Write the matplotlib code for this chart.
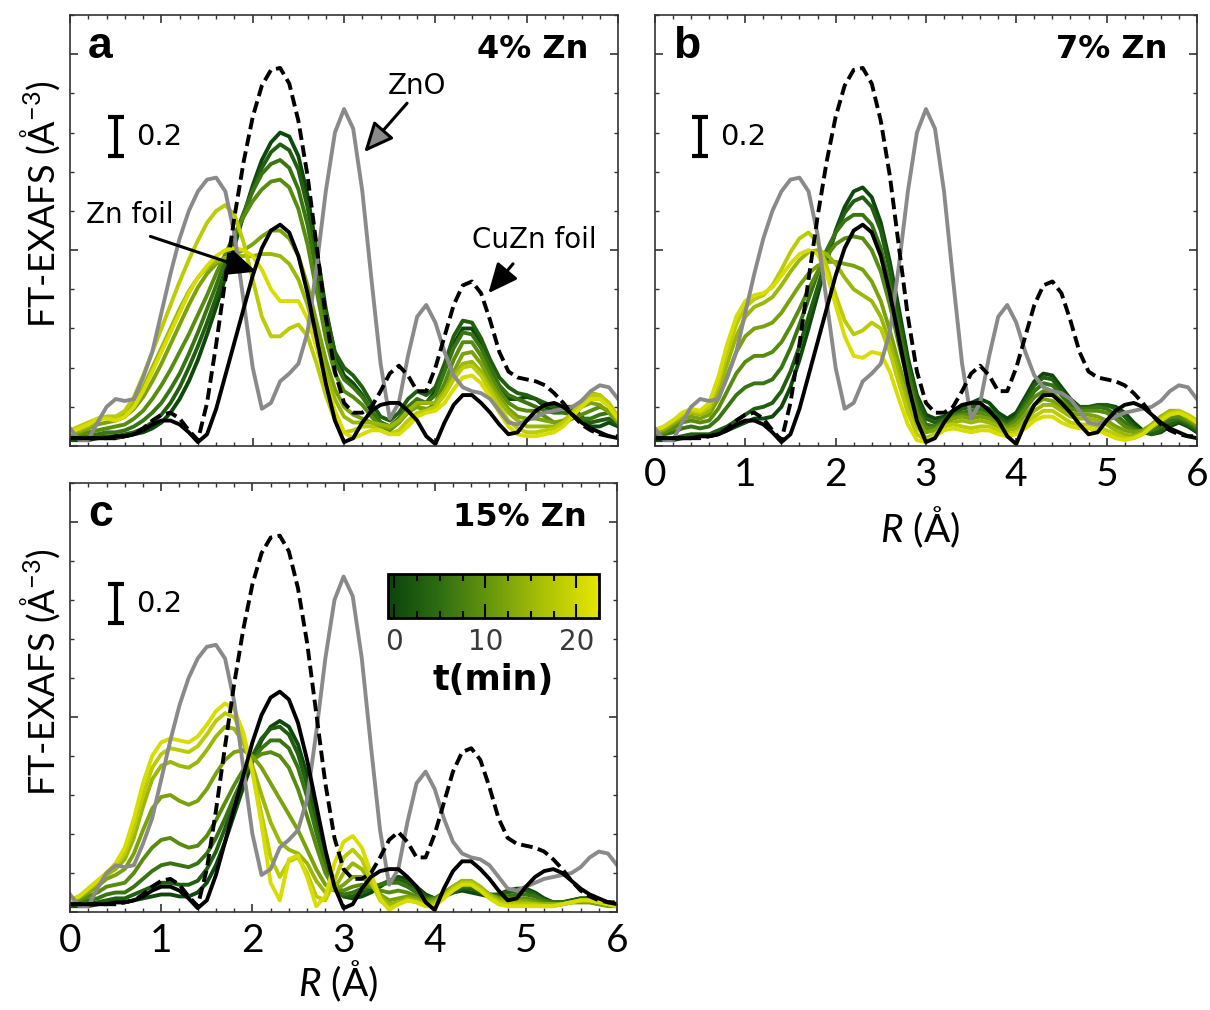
import numpy as np
import matplotlib
matplotlib.use("Agg")
import matplotlib.pyplot as plt
import matplotlib.cm as cm
from matplotlib.colors import LinearSegmentedColormap, Normalize
from matplotlib.ticker import MultipleLocator

plt.rcParams['font.family'] = ['Lato', 'DejaVu Sans']
plt.rcParams['mathtext.fontset'] = 'custom'
plt.rcParams['mathtext.rm'] = 'Lato'
plt.rcParams['mathtext.it'] = 'Lato:italic'

# radial grid of the FT-EXAFS spectra (0.1 A steps)
R = np.linspace(0, 6, 61)

# reference spectra, same in every panel
zno = [0.09, 0.03, 0.03, 0.12, 0.20, 0.24, 0.23, 0.24, 0.35, 0.48,
       0.68, 0.88, 1.06, 1.20, 1.30, 1.36, 1.37, 1.30, 1.08, 0.74,
       0.40, 0.19, 0.22, 0.33, 0.37, 0.42, 0.58, 0.92, 1.30, 1.60,
       1.72, 1.62, 1.30, 0.85, 0.42, 0.14, 0.22, 0.46, 0.66, 0.72,
       0.63, 0.48, 0.36, 0.30, 0.28, 0.27, 0.24, 0.18, 0.12, 0.11,
       0.13, 0.15, 0.17, 0.18, 0.19, 0.20, 0.23, 0.28, 0.31, 0.30,
       0.24]
zn_foil = [0.04, 0.04, 0.04, 0.04, 0.04, 0.05, 0.05, 0.06, 0.08, 0.11,
           0.13, 0.13, 0.11, 0.07, 0.02, 0.06, 0.19, 0.36, 0.53, 0.70,
           0.87, 1.01, 1.10, 1.13, 1.09, 0.97, 0.78, 0.55, 0.32, 0.13,
           0.02, 0.04, 0.12, 0.18, 0.21, 0.22, 0.22, 0.18, 0.13, 0.05,
           0.01, 0.12, 0.21, 0.26, 0.26, 0.22, 0.17, 0.11, 0.06, 0.07,
           0.13, 0.18, 0.21, 0.22, 0.20, 0.16, 0.12, 0.09, 0.07, 0.05,
           0.04]
cuzn_foil = [0.04, 0.04, 0.04, 0.04, 0.04, 0.04, 0.05, 0.06, 0.09, 0.13,
             0.16, 0.17, 0.14, 0.08, 0.03, 0.22, 0.52, 0.85, 1.17, 1.45,
             1.68, 1.84, 1.92, 1.93, 1.85, 1.66, 1.38, 1.02, 0.66, 0.38,
             0.22, 0.17, 0.17, 0.20, 0.28, 0.37, 0.41, 0.36, 0.28, 0.28,
             0.40, 0.56, 0.72, 0.82, 0.84, 0.78, 0.64, 0.48, 0.38, 0.35,
             0.34, 0.33, 0.31, 0.27, 0.22, 0.16, 0.11, 0.08, 0.06, 0.05,
             0.05]

# acquisition times of the time-resolved spectra (min)
times = [0, 3, 6, 9, 12, 15, 18, 21]

# 4% Zn
ft_4 = [
    [0.03, 0.03, 0.03, 0.04, 0.04, 0.04, 0.05, 0.06, 0.07, 0.09,
     0.12, 0.17, 0.24, 0.33, 0.44, 0.57, 0.71, 0.86, 1.02, 1.18,
     1.33, 1.46, 1.55, 1.60, 1.58, 1.48, 1.28, 1.00, 0.70, 0.47,
     0.36, 0.32, 0.26, 0.18, 0.12, 0.10, 0.14, 0.20, 0.22, 0.22,
     0.28, 0.40, 0.52, 0.60, 0.60, 0.52, 0.40, 0.30, 0.24, 0.24,
     0.25, 0.24, 0.20, 0.18, 0.20, 0.20, 0.15, 0.10, 0.10, 0.12,
     0.10],
    [0.03, 0.04, 0.04, 0.05, 0.05, 0.05, 0.06, 0.07, 0.09, 0.12,
     0.16, 0.22, 0.30, 0.40, 0.51, 0.63, 0.76, 0.90, 1.04, 1.18,
     1.31, 1.42, 1.50, 1.54, 1.51, 1.41, 1.22, 0.96, 0.68, 0.48,
     0.40, 0.36, 0.30, 0.22, 0.15, 0.13, 0.17, 0.24, 0.28, 0.26,
     0.30, 0.42, 0.56, 0.64, 0.63, 0.55, 0.44, 0.35, 0.30, 0.27,
     0.26, 0.24, 0.22, 0.20, 0.20, 0.18, 0.14, 0.12, 0.13, 0.14,
     0.11],
    [0.04, 0.05, 0.05, 0.06, 0.07, 0.07, 0.08, 0.10, 0.13, 0.17,
     0.22, 0.29, 0.37, 0.47, 0.58, 0.70, 0.82, 0.95, 1.07, 1.19,
     1.30, 1.39, 1.44, 1.46, 1.42, 1.31, 1.13, 0.88, 0.62, 0.43,
     0.34, 0.30, 0.25, 0.18, 0.12, 0.10, 0.14, 0.20, 0.24, 0.22,
     0.26, 0.38, 0.50, 0.58, 0.57, 0.50, 0.40, 0.31, 0.26, 0.24,
     0.22, 0.20, 0.18, 0.17, 0.17, 0.16, 0.14, 0.14, 0.16, 0.17,
     0.14],
    [0.05, 0.06, 0.07, 0.08, 0.09, 0.10, 0.11, 0.14, 0.18, 0.24,
     0.31, 0.39, 0.48, 0.57, 0.67, 0.77, 0.88, 0.98, 1.08, 1.17,
     1.25, 1.31, 1.35, 1.36, 1.32, 1.21, 1.03, 0.79, 0.55, 0.37,
     0.28, 0.25, 0.21, 0.15, 0.10, 0.08, 0.12, 0.18, 0.20, 0.18,
     0.22, 0.32, 0.44, 0.53, 0.53, 0.46, 0.36, 0.28, 0.22, 0.19,
     0.18, 0.18, 0.15, 0.12, 0.12, 0.14, 0.16, 0.18, 0.20, 0.18,
     0.13],
    [0.06, 0.07, 0.09, 0.11, 0.12, 0.13, 0.15, 0.19, 0.25, 0.33,
     0.42, 0.52, 0.62, 0.72, 0.81, 0.88, 0.93, 0.96, 0.98, 1.00,
     1.03, 1.07, 1.10, 1.10, 1.06, 0.97, 0.82, 0.63, 0.44, 0.29,
     0.20, 0.16, 0.14, 0.12, 0.10, 0.09, 0.12, 0.17, 0.20, 0.19,
     0.20, 0.28, 0.38, 0.47, 0.48, 0.42, 0.33, 0.25, 0.19, 0.15,
     0.14, 0.14, 0.13, 0.12, 0.13, 0.16, 0.20, 0.22, 0.21, 0.17,
     0.12],
    [0.07, 0.08, 0.10, 0.13, 0.15, 0.15, 0.17, 0.22, 0.30, 0.40,
     0.50, 0.60, 0.70, 0.79, 0.86, 0.91, 0.94, 0.96, 0.97, 0.97,
     0.97, 0.98, 0.98, 0.97, 0.93, 0.85, 0.72, 0.55, 0.38, 0.24,
     0.15, 0.12, 0.12, 0.12, 0.11, 0.10, 0.13, 0.18, 0.22, 0.22,
     0.22, 0.28, 0.36, 0.42, 0.43, 0.38, 0.30, 0.23, 0.17, 0.13,
     0.10, 0.10, 0.10, 0.10, 0.12, 0.17, 0.23, 0.27, 0.26, 0.20,
     0.13],
    [0.08, 0.10, 0.12, 0.14, 0.15, 0.15, 0.18, 0.25, 0.36, 0.48,
     0.60, 0.72, 0.84, 0.95, 1.05, 1.14, 1.20, 1.23, 1.18, 1.04,
     0.85, 0.66, 0.56, 0.56, 0.60, 0.62, 0.56, 0.42, 0.26, 0.13,
     0.07, 0.08, 0.10, 0.10, 0.08, 0.06, 0.08, 0.13, 0.17, 0.18,
     0.20, 0.26, 0.34, 0.40, 0.41, 0.36, 0.28, 0.20, 0.13, 0.09,
     0.07, 0.07, 0.08, 0.09, 0.12, 0.17, 0.22, 0.26, 0.26, 0.22,
     0.15],
    [0.07, 0.09, 0.11, 0.14, 0.14, 0.13, 0.15, 0.20, 0.28, 0.38,
     0.48, 0.58, 0.68, 0.78, 0.86, 0.92, 0.97, 1.00, 1.01, 1.00,
     0.97, 0.90, 0.80, 0.74, 0.74, 0.74, 0.65, 0.50, 0.33, 0.18,
     0.07, 0.04, 0.06, 0.08, 0.08, 0.06, 0.06, 0.10, 0.15, 0.17,
     0.18, 0.22, 0.29, 0.35, 0.36, 0.32, 0.25, 0.17, 0.10, 0.06,
     0.05, 0.05, 0.06, 0.07, 0.10, 0.15, 0.20, 0.24, 0.24, 0.20,
     0.14],
]

# 7% Zn
ft_7 = [
    [0.03, 0.03, 0.03, 0.04, 0.04, 0.05, 0.05, 0.06, 0.08, 0.10,
     0.12, 0.14, 0.14, 0.15, 0.20, 0.30, 0.44, 0.60, 0.77, 0.94,
     1.10, 1.22, 1.30, 1.32, 1.27, 1.14, 0.94, 0.70, 0.45, 0.26,
     0.16, 0.14, 0.15, 0.18, 0.20, 0.22, 0.24, 0.22, 0.17, 0.14,
     0.17, 0.25, 0.33, 0.37, 0.36, 0.30, 0.24, 0.20, 0.19, 0.20,
     0.21, 0.20, 0.17, 0.12, 0.08, 0.06, 0.07, 0.10, 0.12, 0.10,
     0.07],
    [0.04, 0.04, 0.04, 0.05, 0.06, 0.06, 0.06, 0.08, 0.10, 0.13,
     0.16, 0.19, 0.20, 0.22, 0.28, 0.38, 0.51, 0.66, 0.81, 0.96,
     1.09, 1.19, 1.25, 1.27, 1.22, 1.10, 0.90, 0.66, 0.42, 0.24,
     0.14, 0.12, 0.14, 0.17, 0.19, 0.20, 0.21, 0.19, 0.15, 0.12,
     0.15, 0.23, 0.31, 0.35, 0.34, 0.28, 0.22, 0.20, 0.20, 0.21,
     0.21, 0.19, 0.15, 0.10, 0.07, 0.06, 0.08, 0.11, 0.13, 0.11,
     0.08],
    [0.05, 0.06, 0.07, 0.09, 0.10, 0.09, 0.10, 0.14, 0.20, 0.26,
     0.30, 0.32, 0.32, 0.34, 0.40, 0.50, 0.62, 0.75, 0.88, 1.00,
     1.09, 1.15, 1.18, 1.18, 1.13, 1.01, 0.82, 0.60, 0.38, 0.20,
     0.11, 0.10, 0.13, 0.16, 0.17, 0.18, 0.19, 0.17, 0.13, 0.11,
     0.14, 0.21, 0.28, 0.32, 0.31, 0.26, 0.21, 0.19, 0.19, 0.20,
     0.19, 0.16, 0.12, 0.09, 0.07, 0.08, 0.10, 0.13, 0.14, 0.12,
     0.09],
    [0.06, 0.07, 0.09, 0.12, 0.13, 0.12, 0.13, 0.19, 0.28, 0.37,
     0.43, 0.46, 0.46, 0.48, 0.53, 0.61, 0.70, 0.80, 0.89, 0.97,
     1.03, 1.06, 1.07, 1.06, 1.00, 0.89, 0.72, 0.52, 0.33, 0.17,
     0.09, 0.09, 0.12, 0.15, 0.16, 0.16, 0.17, 0.15, 0.12, 0.10,
     0.13, 0.19, 0.25, 0.28, 0.27, 0.23, 0.19, 0.18, 0.18, 0.18,
     0.17, 0.14, 0.10, 0.08, 0.07, 0.09, 0.12, 0.15, 0.15, 0.13,
     0.10],
    [0.07, 0.08, 0.11, 0.14, 0.15, 0.14, 0.16, 0.24, 0.36, 0.48,
     0.56, 0.60, 0.61, 0.63, 0.68, 0.75, 0.82, 0.88, 0.92, 0.94,
     0.94, 0.93, 0.92, 0.90, 0.84, 0.74, 0.59, 0.42, 0.26, 0.13,
     0.07, 0.08, 0.11, 0.14, 0.15, 0.14, 0.15, 0.14, 0.11, 0.09,
     0.11, 0.16, 0.21, 0.24, 0.23, 0.20, 0.17, 0.16, 0.16, 0.15,
     0.13, 0.10, 0.08, 0.07, 0.08, 0.11, 0.15, 0.17, 0.17, 0.14,
     0.11],
    [0.07, 0.09, 0.12, 0.15, 0.17, 0.16, 0.18, 0.28, 0.42, 0.56,
     0.66, 0.71, 0.73, 0.76, 0.82, 0.89, 0.95, 0.99, 1.00, 0.98,
     0.93, 0.86, 0.80, 0.77, 0.74, 0.66, 0.53, 0.37, 0.22, 0.10,
     0.04, 0.06, 0.10, 0.12, 0.13, 0.12, 0.13, 0.12, 0.10, 0.08,
     0.09, 0.13, 0.18, 0.21, 0.21, 0.18, 0.15, 0.14, 0.14, 0.13,
     0.11, 0.08, 0.06, 0.05, 0.07, 0.11, 0.15, 0.18, 0.18, 0.15,
     0.12],
    [0.08, 0.10, 0.13, 0.16, 0.18, 0.17, 0.20, 0.32, 0.48, 0.62,
     0.71, 0.75, 0.77, 0.82, 0.90, 0.99, 1.06, 1.09, 1.04, 0.92,
     0.77, 0.64, 0.57, 0.59, 0.63, 0.60, 0.48, 0.32, 0.17, 0.06,
     0.03, 0.06, 0.10, 0.11, 0.10, 0.09, 0.10, 0.10, 0.08, 0.06,
     0.07, 0.11, 0.15, 0.18, 0.18, 0.15, 0.12, 0.11, 0.11, 0.10,
     0.08, 0.06, 0.04, 0.04, 0.06, 0.10, 0.14, 0.17, 0.18, 0.16,
     0.13],
    [0.08, 0.10, 0.13, 0.17, 0.19, 0.18, 0.22, 0.35, 0.52, 0.66,
     0.74, 0.77, 0.78, 0.81, 0.87, 0.93, 0.98, 1.00, 0.98, 0.88,
     0.72, 0.56, 0.46, 0.45, 0.48, 0.47, 0.38, 0.24, 0.11, 0.03,
     0.02, 0.05, 0.08, 0.09, 0.08, 0.07, 0.08, 0.08, 0.06, 0.05,
     0.06, 0.09, 0.13, 0.15, 0.15, 0.12, 0.10, 0.09, 0.09, 0.08,
     0.06, 0.04, 0.03, 0.04, 0.06, 0.10, 0.13, 0.16, 0.17, 0.15,
     0.12],
]

# 15% Zn
ft_15 = [
    [0.03, 0.03, 0.03, 0.04, 0.05, 0.05, 0.05, 0.06, 0.07, 0.08,
     0.09, 0.09, 0.08, 0.08, 0.10, 0.15, 0.24, 0.36, 0.50, 0.64,
     0.77, 0.88, 0.95, 0.98, 0.95, 0.86, 0.70, 0.50, 0.30, 0.15,
     0.08, 0.07, 0.08, 0.10, 0.13, 0.16, 0.18, 0.17, 0.13, 0.09,
     0.07, 0.08, 0.10, 0.11, 0.10, 0.09, 0.08, 0.09, 0.11, 0.12,
     0.12, 0.10, 0.07, 0.05, 0.05, 0.06, 0.07, 0.07, 0.06, 0.05,
     0.04],
    [0.03, 0.04, 0.04, 0.05, 0.06, 0.07, 0.07, 0.09, 0.11, 0.13,
     0.15, 0.15, 0.14, 0.14, 0.16, 0.22, 0.31, 0.43, 0.56, 0.69,
     0.80, 0.89, 0.94, 0.95, 0.91, 0.81, 0.65, 0.46, 0.27, 0.14,
     0.08, 0.08, 0.10, 0.12, 0.14, 0.16, 0.17, 0.15, 0.11, 0.08,
     0.07, 0.08, 0.10, 0.12, 0.12, 0.10, 0.09, 0.09, 0.10, 0.11,
     0.11, 0.09, 0.06, 0.05, 0.05, 0.06, 0.07, 0.07, 0.06, 0.05,
     0.04],
    [0.04, 0.05, 0.06, 0.07, 0.09, 0.10, 0.10, 0.13, 0.17, 0.21,
     0.24, 0.25, 0.24, 0.23, 0.25, 0.30, 0.38, 0.48, 0.59, 0.69,
     0.78, 0.84, 0.88, 0.88, 0.84, 0.74, 0.59, 0.41, 0.24, 0.13,
     0.09, 0.10, 0.12, 0.13, 0.14, 0.15, 0.15, 0.13, 0.10, 0.07,
     0.07, 0.09, 0.12, 0.13, 0.13, 0.11, 0.09, 0.08, 0.08, 0.09,
     0.09, 0.08, 0.06, 0.05, 0.05, 0.05, 0.06, 0.06, 0.05, 0.04,
     0.04],
    [0.04, 0.06, 0.08, 0.10, 0.13, 0.14, 0.15, 0.20, 0.27, 0.33,
     0.37, 0.38, 0.35, 0.33, 0.34, 0.39, 0.47, 0.56, 0.65, 0.73,
     0.78, 0.81, 0.82, 0.80, 0.74, 0.63, 0.49, 0.34, 0.20, 0.12,
     0.11, 0.13, 0.14, 0.13, 0.11, 0.10, 0.11, 0.10, 0.08, 0.06,
     0.07, 0.10, 0.13, 0.15, 0.14, 0.12, 0.09, 0.07, 0.07, 0.07,
     0.07, 0.06, 0.05, 0.04, 0.04, 0.05, 0.05, 0.05, 0.04, 0.04,
     0.03],
    [0.05, 0.07, 0.10, 0.13, 0.17, 0.19, 0.22, 0.30, 0.42, 0.53,
     0.59, 0.60, 0.57, 0.55, 0.57, 0.63, 0.71, 0.78, 0.82, 0.83,
     0.80, 0.74, 0.66, 0.58, 0.50, 0.42, 0.32, 0.22, 0.14, 0.11,
     0.14, 0.18, 0.18, 0.14, 0.09, 0.06, 0.07, 0.08, 0.07, 0.05,
     0.06, 0.09, 0.13, 0.16, 0.15, 0.12, 0.09, 0.07, 0.06, 0.06,
     0.06, 0.05, 0.04, 0.04, 0.04, 0.05, 0.05, 0.05, 0.04, 0.03,
     0.03],
    [0.06, 0.08, 0.11, 0.15, 0.19, 0.22, 0.27, 0.38, 0.54, 0.68,
     0.75, 0.77, 0.75, 0.74, 0.77, 0.83, 0.90, 0.95, 0.94, 0.87,
     0.75, 0.60, 0.46, 0.36, 0.32, 0.30, 0.25, 0.16, 0.10, 0.12,
     0.20, 0.25, 0.22, 0.15, 0.08, 0.04, 0.05, 0.07, 0.06, 0.04,
     0.05, 0.09, 0.13, 0.16, 0.16, 0.13, 0.09, 0.06, 0.05, 0.05,
     0.05, 0.04, 0.04, 0.04, 0.04, 0.05, 0.06, 0.06, 0.05, 0.04,
     0.03],
    [0.06, 0.08, 0.12, 0.16, 0.20, 0.24, 0.30, 0.43, 0.60, 0.74,
     0.81, 0.84, 0.83, 0.82, 0.85, 0.91, 0.98, 1.02, 1.00, 0.90,
     0.72, 0.50, 0.28, 0.18, 0.26, 0.28, 0.20, 0.08, 0.06, 0.16,
     0.28, 0.32, 0.27, 0.16, 0.06, 0.02, 0.04, 0.06, 0.05, 0.03,
     0.04, 0.08, 0.12, 0.15, 0.15, 0.12, 0.08, 0.05, 0.04, 0.04,
     0.04, 0.04, 0.03, 0.03, 0.04, 0.05, 0.06, 0.06, 0.05, 0.04,
     0.03],
    [0.06, 0.08, 0.12, 0.16, 0.20, 0.25, 0.33, 0.48, 0.66, 0.80,
     0.87, 0.89, 0.88, 0.87, 0.90, 0.96, 1.03, 1.07, 1.04, 0.92,
     0.72, 0.45, 0.15, 0.06, 0.27, 0.29, 0.18, 0.03, 0.08, 0.25,
     0.36, 0.39, 0.33, 0.20, 0.07, 0.01, 0.04, 0.06, 0.05, 0.03,
     0.03, 0.07, 0.11, 0.14, 0.14, 0.11, 0.07, 0.04, 0.03, 0.03,
     0.03, 0.03, 0.03, 0.03, 0.04, 0.05, 0.06, 0.06, 0.05, 0.04,
     0.03],
]

cmap = LinearSegmentedColormap.from_list(
    'zn_time', ['#0b430b', '#2f6e12', '#6c9a0c', '#aec305', '#e6e600'])
norm = Normalize(vmin=-0.7, vmax=22.5)

LW = 2.8

fig = plt.figure(figsize=(12.1, 10.1), dpi=100)
ax_a = fig.add_axes([0.0579, 0.5584, 0.4529, 0.4267])
ax_b = fig.add_axes([0.5413, 0.5584, 0.4479, 0.4267])
ax_c = fig.add_axes([0.0579, 0.0970, 0.4521, 0.4248])


def draw_panel(ax, spectra, letter, label, show_x):
    for t, y in zip(times, spectra):
        ax.plot(R, y, color=cmap(norm(t)), lw=LW, solid_joinstyle='round')
    ax.plot(R, zno, color='#8a8a8a', lw=LW, solid_joinstyle='round')
    ax.plot(R, cuzn_foil, color='black', lw=LW, dashes=(3, 1.4))
    ax.plot(R, zn_foil, color='black', lw=LW, solid_joinstyle='round')

    ax.set_xlim(0, 6)
    ax.set_ylim(0, 2.2)
    ax.xaxis.set_major_locator(MultipleLocator(1))
    ax.xaxis.set_minor_locator(MultipleLocator(0.2))
    ax.yaxis.set_major_locator(MultipleLocator(1))
    ax.yaxis.set_minor_locator(MultipleLocator(0.2))
    ax.tick_params(which='both', direction='in', top=True, right=True,
                   labelleft=False, labelbottom=show_x, color='#333333')
    ax.tick_params(which='major', length=6, width=1.2, labelsize=28, pad=8)
    ax.tick_params(which='minor', length=3, width=1.0)
    for s in ax.spines.values():
        s.set_linewidth(1.2)
        s.set_color('#333333')

    # 0.2 scale bar
    ax.errorbar(0.5, 1.58, yerr=0.1, fmt='none', ecolor='black',
                elinewidth=3, capsize=6, capthick=3)
    ax.text(0.72, 1.58, '0.2', fontsize=21, family='DejaVu Sans',
            va='center', ha='left')

    ax.text(0.033, 0.9, letter, transform=ax.transAxes, fontsize=32,
            fontweight='bold', family='Liberation Sans', va='baseline')
    ax.text(0.945, 0.9, label, transform=ax.transAxes, fontsize=23,
            fontweight='bold', family='DejaVu Sans', ha='right',
            va='baseline')


draw_panel(ax_a, ft_4, 'a', '4% Zn', False)
draw_panel(ax_b, ft_7, 'b', '7% Zn', True)
draw_panel(ax_c, ft_15, 'c', '15% Zn', True)

# reference labels in panel a
head = 'head_length=1.0,head_width=0.45'
ax_a.text(3.8, 1.84, 'ZnO', fontsize=20, family='DejaVu Sans',
          ha='center', va='center')
ax_a.annotate('', xy=(3.22, 1.50), xytext=(3.69, 1.75),
              arrowprops=dict(arrowstyle='-|>,' + head, mutation_scale=18,
                              fc='#8a8a8a', ec='black', lw=2.2,
                              shrinkA=0, shrinkB=0))
ax_a.text(0.18, 1.18, 'Zn foil', fontsize=20, family='DejaVu Sans',
          ha='left', va='center')
ax_a.annotate('', xy=(2.04, 0.89), xytext=(0.88, 1.07),
              arrowprops=dict(arrowstyle='-|>,' + head, mutation_scale=18,
                              fc='black', ec='black', lw=2.2,
                              shrinkA=0, shrinkB=0))
ax_a.text(5.08, 1.05, 'CuZn foil', fontsize=20, family='DejaVu Sans',
          ha='center', va='center')
ax_a.annotate('', xy=(4.58, 0.78), xytext=(4.85, 0.93),
              arrowprops=dict(arrowstyle='-|>,' + head, mutation_scale=18,
                              fc='black', ec='black', lw=2.2,
                              shrinkA=0, shrinkB=0))

# axis titles
ylab = 'FT-EXAFS (Å$^{-3}$)'
fig.text(40 / 1210, 1 - 204 / 1010, ylab, rotation=90, fontsize=26,
         ha='center', va='center')
fig.text(40 / 1210, 1 - 672 / 1010, ylab, rotation=90, fontsize=26,
         ha='center', va='center')
fig.text(920 / 1210, 1 - 527 / 1010, '$R$ (Å)', fontsize=28,
         ha='center', va='center')
fig.text(338 / 1210, 1 - 981 / 1010, '$R$ (Å)', fontsize=28,
         ha='center', va='center')

# time colour scale inside panel c
cax = fig.add_axes([0.3207, 0.3881, 0.1744, 0.0436])
cb = fig.colorbar(cm.ScalarMappable(norm=norm, cmap=cmap), cax=cax,
                  orientation='horizontal')
cb.set_ticks([0, 10, 20])
cax.xaxis.set_minor_locator(MultipleLocator(2.5))
cax.tick_params(which='both', direction='in', top=True, bottom=True,
                color='black')
cax.tick_params(which='major', length=10, width=1.5, labelsize=20,
                labelcolor='#3a3a3a', pad=7)
cax.tick_params(which='minor', length=5, width=1.5)
for lab in cax.get_xticklabels():
    lab.set_family('DejaVu Sans')
cb.outline.set_linewidth(2)
fig.text(493 / 1210, 1 - 680 / 1010, 't(min)', fontsize=25,
         fontweight='bold', family='DejaVu Sans', ha='center', va='center')

fig.savefig('out.png', dpi=100)
